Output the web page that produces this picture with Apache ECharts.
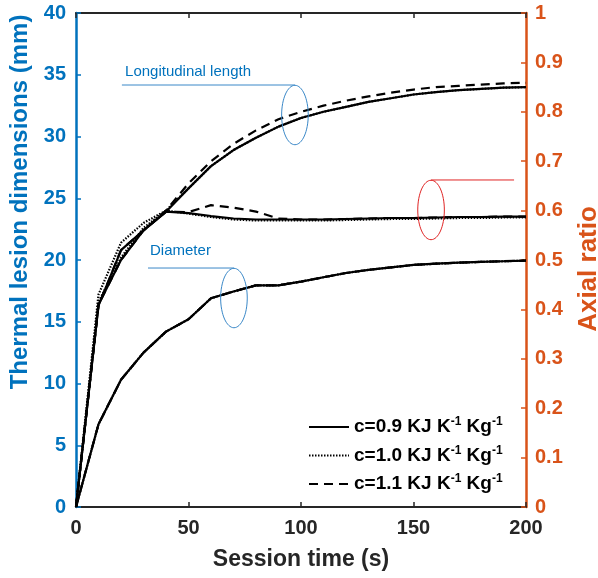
<!DOCTYPE html>
<html>
<head>
<meta charset="utf-8">
<script src="https://cdn.jsdelivr.net/npm/echarts@6/dist/echarts.min.js"></script>
<style>
  html, body { margin: 0; padding: 0; background: #ffffff; }
  #chart { width: 598px; height: 578px; }
</style>
</head>
<body>
<div id="chart"></div>
<script>
// Session time samples (s)
const sessionTime = [0, 10, 20, 30, 40, 50, 60, 70, 80, 90, 100, 110, 120, 130, 140, 150, 160, 170, 180, 190, 200];

// Longitudinal length of the thermal lesion (mm)
const lengthC09 = [0, 16.3, 20.8, 22.4, 23.9, 25.8, 27.6, 28.9, 29.9, 30.8, 31.5, 32.0, 32.4, 32.8, 33.1, 33.4, 33.6, 33.75, 33.85, 33.95, 34.0];
const lengthC10 = [0, 17.2, 21.4, 23.0, 24.0, 25.8, 27.6, 28.9, 29.9, 30.8, 31.5, 32.0, 32.4, 32.8, 33.1, 33.4, 33.6, 33.75, 33.85, 33.95, 34.0];
const lengthC11 = [0, 16.3, 20.8, 22.4, 24.0, 26.2, 28.0, 29.4, 30.5, 31.4, 32.0, 32.5, 32.9, 33.25, 33.55, 33.8, 34.0, 34.1, 34.2, 34.3, 34.35];

// Lesion diameter (mm) - identical for the three heat capacities
const diameterC09 = [0, 6.7, 10.3, 12.5, 14.2, 15.2, 16.9, 17.45, 17.95, 17.95, 18.25, 18.6, 18.95, 19.2, 19.4, 19.6, 19.7, 19.78, 19.85, 19.9, 19.95];
const diameterC10 = diameterC09.slice();
const diameterC11 = diameterC09.slice();

// Axial ratio (right axis)
const ratioC09 = [0, 0.41, 0.50, 0.56, 0.598, 0.595, 0.589, 0.584, 0.582, 0.582, 0.582, 0.582, 0.583, 0.584, 0.585, 0.585, 0.586, 0.587, 0.587, 0.588, 0.588];
const ratioC10 = [0, 0.415, 0.505, 0.565, 0.600, 0.594, 0.587, 0.582, 0.580, 0.580, 0.580, 0.580, 0.581, 0.582, 0.583, 0.583, 0.584, 0.585, 0.585, 0.586, 0.586];
const ratioC11 = [0, 0.41, 0.50, 0.56, 0.598, 0.597, 0.611, 0.606, 0.598, 0.584, 0.582, 0.582, 0.583, 0.584, 0.585, 0.585, 0.586, 0.587, 0.587, 0.588, 0.588];

// Heat capacity labels
const capacityLabels = ['c=0.9', 'c=1.0', 'c=1.1'];
const unitText = ' KJ K-1 Kg-1';

// Axis ranges and ticks
const timeAxis = { min: 0, max: 200, interval: 50 };
const dimAxis = { min: 0, max: 40, interval: 5 };
const ratioAxis = { min: 0, max: 1, interval: 0.1 };

const FONT = '"Liberation Sans", Arial, Helvetica, sans-serif';
const BLUE = '#0072BD';
const ORANGE = '#D95319';
const DARK = '#262626';

const lineTypes = ['solid', [1.5, 1.5], [9, 6]];
const groups = [
  { length: lengthC09, diameter: diameterC09, ratio: ratioC09 },
  { length: lengthC10, diameter: diameterC10, ratio: ratioC10 },
  { length: lengthC11, diameter: diameterC11, ratio: ratioC11 }
];

function pairs(ys) {
  return sessionTime.map((t, i) => [t, ys[i]]);
}

const names = capacityLabels.map(c => c + unitText);

const series = [];
// dotted/dashed first so the solid traces sit on top where they coincide
[1, 2, 0].forEach(k => {
  const g = groups[k];
  const base = {
    name: names[k],
    type: 'line',
    symbol: 'none',
    smooth: false,
    silent: true,
    animation: false,
    lineStyle: { color: '#000000', width: 2.2, type: lineTypes[k] },
    itemStyle: { color: '#000000' }
  };
  series.push(Object.assign({}, base, { xAxisIndex: 0, yAxisIndex: 0, data: pairs(g.length) }));
  series.push(Object.assign({}, base, { xAxisIndex: 0, yAxisIndex: 0, data: pairs(g.diameter) }));
  series.push(Object.assign({}, base, { xAxisIndex: 0, yAxisIndex: 1, data: pairs(g.ratio) }));
});

function xAxisCfg(position, withLabels) {
  return {
    type: 'value',
    position: position,
    min: timeAxis.min, max: timeAxis.max, interval: timeAxis.interval,
    axisLine: { show: true, onZero: false, lineStyle: { color: DARK, width: 2 } },
    axisTick: { show: true, inside: true, length: 5, lineStyle: { color: DARK, width: 1.5 } },
    axisLabel: { show: withLabels, margin: 11, color: DARK, fontSize: 20, fontWeight: 'bold', fontFamily: FONT },
    splitLine: { show: false },
    name: withLabels ? 'Session time (s)' : '',
    nameLocation: 'middle',
    nameGap: 41,
    nameTextStyle: { color: DARK, fontSize: 23, fontWeight: 'bold', fontFamily: FONT }
  };
}

const chart = echarts.init(document.getElementById('chart'), null, { renderer: 'canvas' });

const option = {
  backgroundColor: '#ffffff',
  animation: false,
  grid: { left: 76, right: 72, top: 13, bottom: 71, containLabel: false, outerBoundsMode: 'none' },
  xAxis: [xAxisCfg('bottom', true), xAxisCfg('top', false)],
  yAxis: [
    {
      type: 'value', position: 'left',
      min: dimAxis.min, max: dimAxis.max, interval: dimAxis.interval,
      axisLine: { show: true, onZero: false, lineStyle: { color: BLUE, width: 2.5 } },
      axisTick: { show: true, inside: true, length: 5, lineStyle: { color: BLUE, width: 1.5 } },
      axisLabel: { margin: 10, color: BLUE, fontSize: 20, fontWeight: 'bold', fontFamily: FONT },
      splitLine: { show: false },
      name: 'Thermal lesion dimensions (mm)',
      nameLocation: 'middle',
      nameGap: 39,
      nameTextStyle: { color: BLUE, fontSize: 24, fontWeight: 'bold', fontFamily: FONT, padding: [0, 0, 0, 116] }
    },
    {
      type: 'value', position: 'right',
      min: ratioAxis.min, max: ratioAxis.max, interval: ratioAxis.interval,
      axisLine: { show: true, onZero: false, lineStyle: { color: ORANGE, width: 2.5 } },
      axisTick: { show: true, inside: true, length: 5, lineStyle: { color: ORANGE, width: 1.5 } },
      axisLabel: { margin: 9, color: ORANGE, fontSize: 20, fontWeight: 'bold', fontFamily: FONT },
      splitLine: { show: false },
      name: 'Axial ratio',
      nameLocation: 'middle',
      nameGap: 50,
      nameTextStyle: { color: ORANGE, fontSize: 26, fontWeight: 'bold', fontFamily: FONT, padding: [0, 18, 0, 0] }
    }
  ],
  legend: {
    show: true,
    orient: 'vertical',
    left: 303,
    top: 411,
    itemWidth: 40,
    itemHeight: 14,
    itemGap: 8,
    selectedMode: false,
    data: names,
    itemStyle: { opacity: 0 },
    formatter: function (name) {
      const c = name.split(' ')[0];
      return '{m|' + c + ' KJ K}{s|-1}{m| Kg}{s|-1}';
    },
    textStyle: {
      rich: {
        m: { fontSize: 19, fontWeight: 'bold', color: '#000000', fontFamily: FONT, lineHeight: 22 },
        s: { fontSize: 12, fontWeight: 'bold', color: '#000000', fontFamily: FONT, lineHeight: 12, verticalAlign: 'top' }
      }
    }
  },
  series: series
};

chart.setOption(option);

// Callout annotations placed in data coordinates of the left axis
function px(x, y) {
  return chart.convertToPixel({ xAxisIndex: 0, yAxisIndex: 0 }, [x, y]);
}

function callout(textPos, text, lineFrom, lineTo, ellipseCenter, color, textColor) {
  const els = [];
  const c = px(ellipseCenter[0], ellipseCenter[1]);
  const a = px(lineFrom[0], lineFrom[1]);
  const b = px(lineTo[0], lineTo[1]);
  els.push({ type: 'line', silent: true, z: 50,
    shape: { x1: a[0], y1: a[1], x2: b[0], y2: b[1] },
    style: { stroke: color, lineWidth: 1 } });
  els.push({ type: 'ellipse', silent: true, z: 50,
    shape: { cx: c[0], cy: c[1], rx: 13.3, ry: 29.7 },
    style: { stroke: color, fill: 'none', lineWidth: 1 } });
  if (text) {
    const t = px(textPos[0], textPos[1]);
    els.push({ type: 'text', silent: true, z: 50, x: t[0], y: t[1],
      style: { text: text, fill: textColor, font: '15px ' + FONT, verticalAlign: 'middle' } });
  }
  return els;
}

const graphics = []
  .concat(callout([21.8, 35.2], 'Longitudinal length', [20.4, 34.17], [97.3, 34.17], [97.3, 31.74], '#3a88c8', BLUE))
  .concat(callout([32.9, 20.73], 'Diameter', [32.0, 19.35], [70.2, 19.35], [70.2, 16.92], '#3a88c8', BLUE))
  .concat(callout(null, null, [157.8, 26.48], [194.7, 26.48], [157.8, 24.05], '#e02424', '#e02424'));

chart.setOption({ graphic: graphics });
</script>
</body>
</html>
